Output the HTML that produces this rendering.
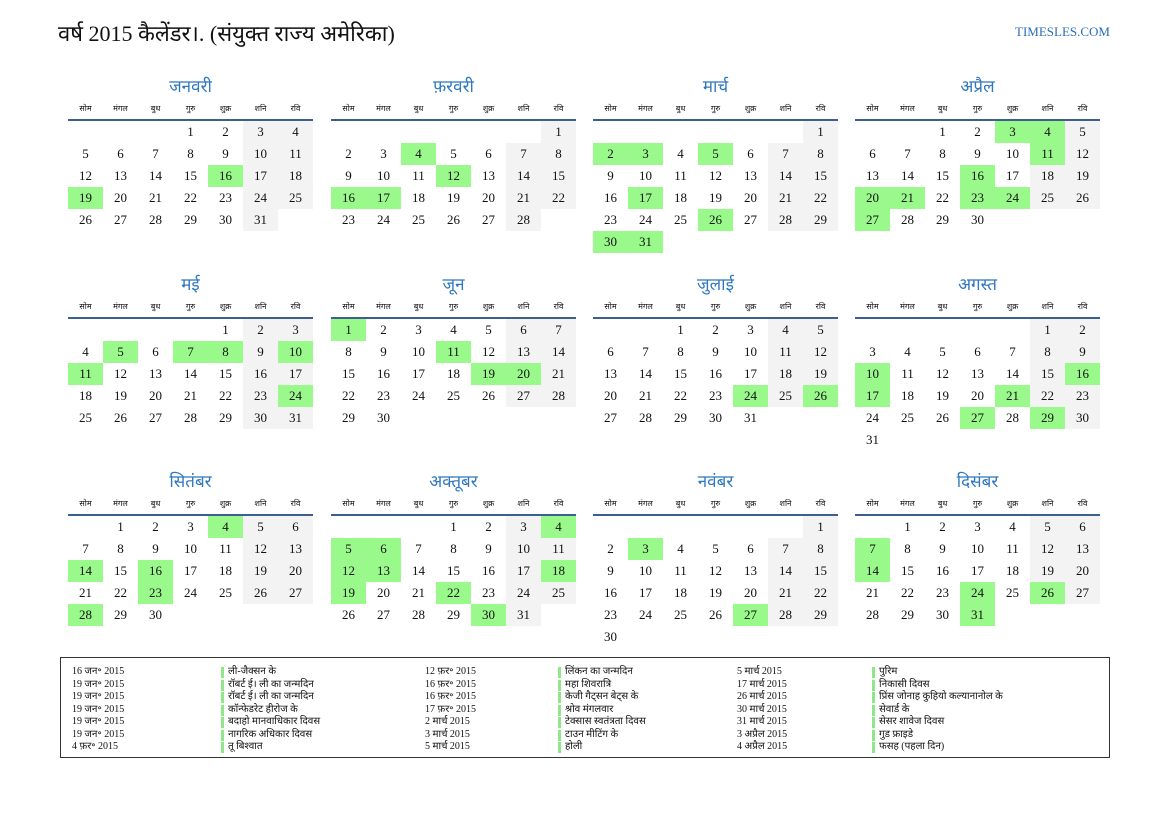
<!DOCTYPE html>
<html><head><meta charset="utf-8"><style>
body{margin:0;width:1169px;height:827px;background:#fff;position:relative;font-family:"Liberation Serif","Noto Serif CJK SC",serif;color:#111;overflow:hidden}
.t{position:absolute;left:58px;top:18px;font-size:22px}
.w{position:absolute;right:59px;top:24px;font-size:13px;color:#2a6db5}
.mt{position:absolute;width:245px;text-align:center;font-size:17px;color:#2f78c0}
.hd{position:absolute;width:35px;text-align:center;font-size:8px}
.ln{position:absolute;width:245px;height:2px;background:#3d5f8e}
.c{position:absolute;width:35px;height:22px;line-height:22px;text-align:center;font-size:13px}
.g{background:#f3f3f3}
.h{background:#9af98b}
.lg{position:absolute;left:60px;top:657px;width:1048px;height:99px;border:1.5px solid #333}
.li{position:absolute;font-size:10px;line-height:12.5px}
.bar{position:absolute;width:3px;height:11px;background:#8ee88a}
</style></head><body>
<div class="t">वर्ष 2015 कैलेंडर।. (संयुक्त राज्य अमेरिका)</div>
<div class="w">TIMESLES.COM</div>
<div id="cal"></div>
<div class="lg"></div>
<div id="leg"></div>
<script>
var names=["जनवरी","फ़रवरी","मार्च","अप्रैल","मई","जून","जुलाई","अगस्त","सितंबर","अक्तूबर","नवंबर","दिसंबर"];
var wd=["सोम","मंगल","बुध","गुरु","शुक्र","शनि","रवि"];
var hl=[[16,19],[4,12,16,17],[2,3,5,17,26,30,31],[3,4,11,16,20,21,23,24,27],[5,7,8,10,11,24],[1,11,19,20],[24,26],[10,16,17,21,27,29],[4,14,16,23,28],[4,5,6,12,13,18,19,22,30],[3,27],[7,14,24,26,31]];
var xs=[68,331,593,855],lines=[120,318,515];
var h="";
for(var m=0;m<12;m++){
 var x=xs[m%4],L=lines[Math.floor(m/4)];
 h+='<div class="mt" style="left:'+x+'px;top:'+(L-46)+'px">'+names[m]+'</div>';
 for(var i=0;i<7;i++)h+='<div class="hd" style="left:'+(x+i*35)+'px;top:'+(L-17)+'px">'+wd[i]+'</div>';
 h+='<div class="ln" style="left:'+x+'px;top:'+(L-1)+'px"></div>';
 var first=(new Date(2015,m,1).getDay()+6)%7,n=new Date(2015,m+1,0).getDate();
 for(var d=1;d<=n;d++){var p=first+d-1,col=p%7,row=Math.floor(p/7);
  var cls=hl[m].indexOf(d)>=0?"c h":(col>=5?"c g":"c");
  h+='<div class="'+cls+'" style="left:'+(x+col*35)+'px;top:'+(L+1+row*22)+'px">'+d+'</div>';}
}
document.getElementById("cal").innerHTML=h;
var L=[["16 जन॰ 2015","ली-जैक्सन के","12 फ़र॰ 2015","लिंकन का जन्मदिन","5 मार्च 2015","पुरिम"],
["19 जन॰ 2015","रॉबर्ट ई। ली का जन्मदिन","16 फ़र॰ 2015","महा शिवरात्रि","17 मार्च 2015","निकासी दिवस"],
["19 जन॰ 2015","रॉबर्ट ई। ली का जन्मदिन","16 फ़र॰ 2015","केजी गैट्सन बेट्स के","26 मार्च 2015","प्रिंस जोनाह कुहियो कल्यानानोल के"],
["19 जन॰ 2015","कॉन्फेडरेट हीरोज के","17 फ़र॰ 2015","श्रोव मंगलवार","30 मार्च 2015","सेवार्ड के"],
["19 जन॰ 2015","बदाहो मानवाधिकार दिवस","2 मार्च 2015","टेक्सास स्वतंत्रता दिवस","31 मार्च 2015","सेसर शावेज दिवस"],
["19 जन॰ 2015","नागरिक अधिकार दिवस","3 मार्च 2015","टाउन मीटिंग के","3 अप्रैल 2015","गुड फ्राइडे"],
["4 फ़र॰ 2015","तू बिश्वात","5 मार्च 2015","होली","4 अप्रैल 2015","फसह (पहला दिन)"]];
var dx=[72,425,737],bx=[221,558,872];h="";
for(var r=0;r<7;r++){var y=666+r*12.5;for(var k=0;k<3;k++){
 h+='<div class="li" style="left:'+dx[k]+'px;top:'+y+'px">'+L[r][2*k]+'</div>';
 h+='<div class="bar" style="left:'+bx[k]+'px;top:'+(y+1)+'px"></div>';
 h+='<div class="li" style="left:'+(bx[k]+7)+'px;top:'+y+'px">'+L[r][2*k+1]+'</div>';}}
document.getElementById("leg").innerHTML=h;
</script>
</body></html>
